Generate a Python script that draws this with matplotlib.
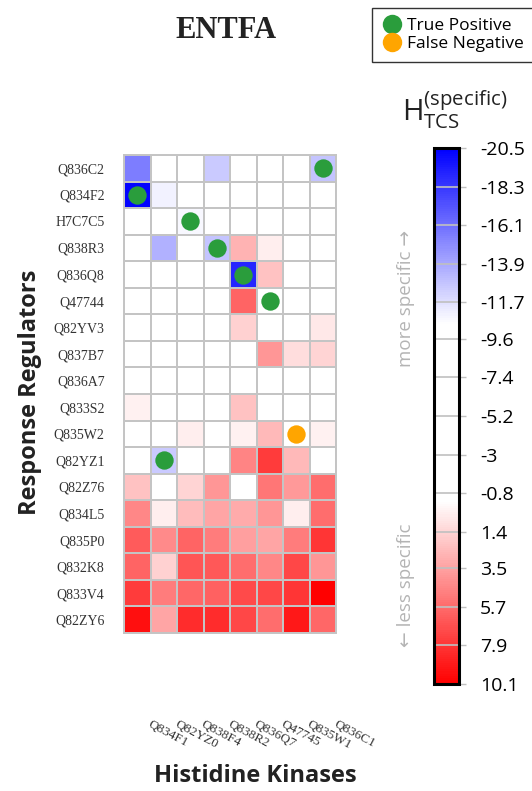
import numpy as np
import matplotlib
matplotlib.use("Agg")
import matplotlib.pyplot as plt
from matplotlib.colors import LinearSegmentedColormap
from matplotlib.lines import Line2D

# Data
regulators = ["Q836C2", "Q834F2", "H7C7C5", "Q838R3", "Q836Q8", "Q47744",
              "Q82YV3", "Q837B7", "Q836A7", "Q833S2", "Q835W2", "Q82YZ1",
              "Q82Z76", "Q834L5", "Q835P0", "Q832K8", "Q833V4", "Q82ZY6"]
kinases = ["Q834F1", "Q82YZ0", "Q838F4", "Q838R2", "Q836Q7", "Q47745",
           "Q835W1", "Q836C1"]

h_tcs = [
    [-15.5, -5.0, -5.0, -12.5, -5.0, -5.0, -5.0, -12.8],
    [-20.3, -11.0, -5.0, -5.0, -5.0, -5.0, -5.0, -5.0],
    [-5.0, -5.0, -10.7, -5.0, -5.0, -5.0, -5.0, -5.0],
    [-5.0, -13.5, -5.0, -12.8, 2.8, 0.4, -5.0, -5.0],
    [-5.0, -5.0, -5.0, -5.0, -19.0, 2.2, -5.0, -5.0],
    [-5.0, -5.0, -5.0, -5.0, 6.0, -5.0, -5.0, -5.0],
    [-5.0, -5.0, -5.0, -5.0, 1.5, -5.0, -5.0, 0.6],
    [-5.0, -5.0, -5.0, -5.0, -5.0, 4.0, 1.1, 1.4],
    [-5.0, -5.0, -5.0, -5.0, -5.0, -5.0, -5.0, -5.0],
    [0.2, -5.0, -5.0, -5.0, 2.2, -5.0, -5.0, -5.0],
    [-5.0, -5.0, 0.4, -5.0, 0.2, 2.5, -5.0, 0.2],
    [-5.0, -12.5, -5.0, -5.0, 4.7, 7.6, 2.5, -5.0],
    [2.2, -5.0, 1.4, 3.9, -5.0, 5.3, 3.8, 5.6],
    [4.5, 0.4, 2.4, 3.4, 3.1, 4.0, 0.3, 5.6],
    [6.3, 4.4, 6.0, 5.0, 3.6, 3.3, 5.0, 7.9],
    [6.0, 1.5, 6.6, 6.4, 5.6, 4.5, 7.2, 4.0],
    [7.6, 5.0, 5.8, 6.1, 7.1, 7.2, 7.9, 10.1],
    [9.5, 3.4, 8.2, 8.2, 7.2, 5.6, 9.1, 5.8],
]

# (row, col) of predicted pairs
true_pos = [(0, 7), (1, 0), (2, 2), (3, 3), (4, 4), (5, 5), (11, 1)]
false_neg = [(10, 6)]

cbar_ticks = [-20.5, -18.3, -16.1, -13.9, -11.7, -9.6, -7.4, -5.2, -3,
              -0.8, 1.4, 3.5, 5.7, 7.9, 10.1]
vmin, vmax = -20.5, 10.1

# blue -> white band -> red
def frac(v):
    return (v - vmin) / (vmax - vmin)

cmap = LinearSegmentedColormap.from_list(
    "bwr_band",
    [(0.0, "#0000ff"), (frac(-10.5), "#ffffff"), (frac(-0.3), "#ffffff"),
     (1.0, "#ff0000")])

sans = ["Open Sans", "DejaVu Sans"]

W, H = 532, 791
fig = plt.figure(figsize=(W / 100, H / 100), dpi=100)

def box(x0, y0, x1, y1):
    return [x0 / W, 1 - y1 / H, (x1 - x0) / W, (y1 - y0) / H]

ax = fig.add_axes(box(124, 155, 336, 633))
data = np.array(h_tcs)
mesh = ax.pcolormesh(np.arange(len(kinases) + 1), np.arange(len(regulators) + 1),
                     data, cmap=cmap, vmin=vmin, vmax=vmax,
                     edgecolors="#c4c4c4", linewidth=1.4)
ax.set_xlim(0, len(kinases))
ax.set_ylim(len(regulators), 0)
for s in ax.spines.values():
    s.set_color("#c4c4c4")
    s.set_linewidth(1.4)

tp = np.array(true_pos)
ax.scatter(tp[:, 1] + 0.5, tp[:, 0] + 0.5, s=175, color="#2a9d3c", zorder=3,
           linewidths=0)
fn = np.array(false_neg)
ax.scatter(fn[:, 1] + 0.5, fn[:, 0] + 0.5, s=175, color="#ffa500", zorder=3,
           linewidths=0)

ax.set_xticks([])
ax.set_yticks(np.arange(len(regulators)) + 0.5)
ax.set_yticklabels(regulators, fontfamily="Liberation Serif", fontsize=10,
                   color="#333333")
ax.tick_params(axis="y", length=0, pad=14)

for j, name in enumerate(kinases):
    ax.text(j + 1.05, 21.2, name, rotation=-28, rotation_mode="anchor",
            ha="left", va="top", fontfamily="Liberation Serif", fontsize=9.5,
            color="#333333", clip_on=False)

fig.text(30 / W, 1 - 392 / H, "Response Regulators", rotation=90,
         ha="center", va="center", fontsize=17, fontweight="bold",
         fontfamily=sans, color="#222222")
fig.text(255 / W, 1 - 776 / H, "Histidine Kinases", ha="center", va="center",
         fontsize=17, fontweight="bold", fontfamily=sans, color="#222222")
fig.text(226 / W, 1 - 30 / H, "ENTFA", ha="center", va="center", fontsize=22,
         fontweight="bold", fontfamily="Liberation Serif", color="#222222")

# colorbar
cax = fig.add_axes(box(434, 148, 459, 684))
cb = fig.colorbar(mesh, cax=cax)
cax.set_ylim(vmax, vmin)
cb.set_ticks(cbar_ticks)
cb.set_ticklabels([f"{t:g}" for t in cbar_ticks])
cax.tick_params(axis="y", length=5, width=1, color="#c0c0c0", pad=10,
                labelsize=14)
for t in cbar_ticks[1:-1]:
    cax.axhline(t, color="#c0c0c0", linewidth=1.2)
cb.outline.set_linewidth(2.2)
cb.outline.set_edgecolor("black")
for lab in cax.get_yticklabels():
    lab.set_fontfamily(sans)

fig.text(455 / W, 1 - 110 / H,
         r"$\mathregular{H}_{\mathregular{TCS}}^{\mathregular{(specific)}}$",
         ha="center", va="center", fontsize=21, fontfamily=sans,
         color="#222222")

fig.text(406 / W, 1 - 298 / H, "more specific \u2192", rotation=90,
         ha="center", va="center", fontsize=13.5, color="#b4b4b4",
         fontfamily=sans)
fig.text(406 / W, 1 - 585 / H, "\u2190 less specific", rotation=90,
         ha="center", va="center", fontsize=13.5, color="#b4b4b4",
         fontfamily=sans)

handles = [Line2D([], [], marker="o", linestyle="none", markersize=14,
                  markerfacecolor="#2a9d3c", markeredgewidth=0),
           Line2D([], [], marker="o", linestyle="none", markersize=14,
                  markerfacecolor="#ffa500", markeredgewidth=0)]
leg = fig.legend(handles, ["True Positive", "False Negative"],
                 loc="upper left", bbox_to_anchor=(372 / W, 1 - 8 / H),
                 frameon=True, fancybox=False, edgecolor="black",
                 prop={"family": sans, "size": 12.5},
                 handletextpad=0.25, borderpad=0.55, labelspacing=0.15,
                 handlelength=1.2, borderaxespad=0)
leg.get_frame().set_linewidth(1.0)

fig.savefig("out.png", dpi=100)
